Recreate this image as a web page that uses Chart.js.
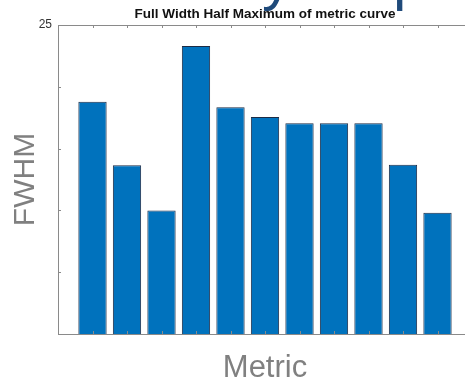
<!DOCTYPE html>
<html>
<head>
<meta charset="utf-8">
<script src="https://cdn.jsdelivr.net/npm/chart.js@4/dist/chart.umd.min.js"></script>
<style>
  html, body { margin: 0; padding: 0; background: #fff; overflow: hidden; width: 465px; height: 381px; }
  #wrap { position: relative; width: 465px; height: 381px; overflow: hidden; }
  canvas { position: absolute; left: 0; top: 0; }
  .cut { position: absolute; font: 60px Arial, "Liberation Sans", sans-serif; line-height: 60px; color: #1f4a7a; top: -51px; }
</style>
</head>
<body>
<div id="wrap">
  <span class="cut" style="left:262px">y</span>
  <span class="cut" style="left:393px">p</span>
  <canvas id="fwhm" width="530" height="381"></canvas>
</div>
<script>
// data
const categories = [1, 2, 3, 4, 5, 6, 7, 8, 9, 10, 11];
const fwhmValues = [18.8, 13.65, 10.0, 23.3, 18.35, 17.55, 17.05, 17.05, 17.05, 13.7, 9.8];
const yTicks = [0, 5, 10, 15, 20, 25];
const yTickLabels = {25: '25'};

const axisGray = '#8a8a8a';

// MATLAB style ticks pointing into the box, plus the top box line
const insideTicks = {
  id: 'insideTicks',
  afterDatasetsDraw(chart) {
    const {ctx, chartArea: a, scales: {x, y}} = chart;
    ctx.save();
    ctx.strokeStyle = axisGray;
    ctx.lineWidth = 1;
    ctx.beginPath();
    ctx.moveTo(a.left, a.top + 0.5);
    ctx.lineTo(a.right, a.top + 0.5);
    categories.forEach(c => {
      const px = Math.round(x.getPixelForValue(c)) + 0.5;
      ctx.moveTo(px, a.top); ctx.lineTo(px, a.top + 3);
      ctx.moveTo(px, a.bottom); ctx.lineTo(px, a.bottom - 3);
    });
    yTicks.forEach(v => {
      const py = Math.round(y.getPixelForValue(v)) + 0.5;
      ctx.moveTo(a.left, py); ctx.lineTo(a.left + 3, py);
    });
    ctx.stroke();
    ctx.restore();
  }
};

new Chart(document.getElementById('fwhm'), {
  type: 'bar',
  data: {
    datasets: [{
      data: categories.map((c, i) => ({x: c, y: fwhmValues[i]})),
      backgroundColor: '#0072bd',
      borderColor: '#1c2b45',
      borderWidth: 1,
      barPercentage: 0.82,
      categoryPercentage: 1
    }]
  },
  options: {
    responsive: false,
    animation: false,
    devicePixelRatio: 1,
    layout: { padding: 0 },
    plugins: {
      legend: { display: false },
      tooltip: { enabled: false },
      title: {
        display: true,
        text: 'Full Width Half Maximum of metric curve',
        color: '#111',
        font: { family: 'Arial, "Liberation Sans", sans-serif', size: 13.5, weight: 'bold' },
        padding: { top: 6.5, bottom: 2.3 }
      }
    },
    scales: {
      x: {
        type: 'linear',
        offset: false,
        min: 0,
        max: 12,
        grid: { display: false, drawTicks: false, offset: false },
        border: { display: true, color: axisGray },
        ticks: { display: false },
        title: {
          display: true,
          text: 'Metric',
          color: '#808080',
          font: { family: 'Arial, "Liberation Sans", sans-serif', size: 31, lineHeight: 0.8 },
          padding: { top: 0, bottom: 0 }
        },
        afterFit: s => { s.height = 47; }
      },
      y: {
        min: 0,
        max: 25,
        grid: { display: false, drawTicks: false },
        border: { display: true, color: axisGray },
        afterBuildTicks: s => { s.ticks = yTicks.map(v => ({value: v})); },
        ticks: {
          color: '#333',
          padding: 6,
          font: { family: 'Arial, "Liberation Sans", sans-serif', size: 12 },
          callback: v => yTickLabels[v] || ''
        },
        title: {
          display: true,
          text: 'FWHM',
          color: '#808080',
          font: { family: 'Arial, "Liberation Sans", sans-serif', size: 30 },
          padding: { top: 8, bottom: 0 }
        },
        afterFit: s => { s.width = 58; }
      },
      // empty right axis, keeps the box symmetric so the title centres over the plot
      yRight: {
        position: 'right',
        min: 0,
        max: 25,
        grid: { display: false, drawTicks: false },
        border: { display: false },
        ticks: { display: false },
        afterFit: s => { s.width = 58; }
      }
    }
  },
  plugins: [insideTicks]
});
</script>
</body>
</html>
